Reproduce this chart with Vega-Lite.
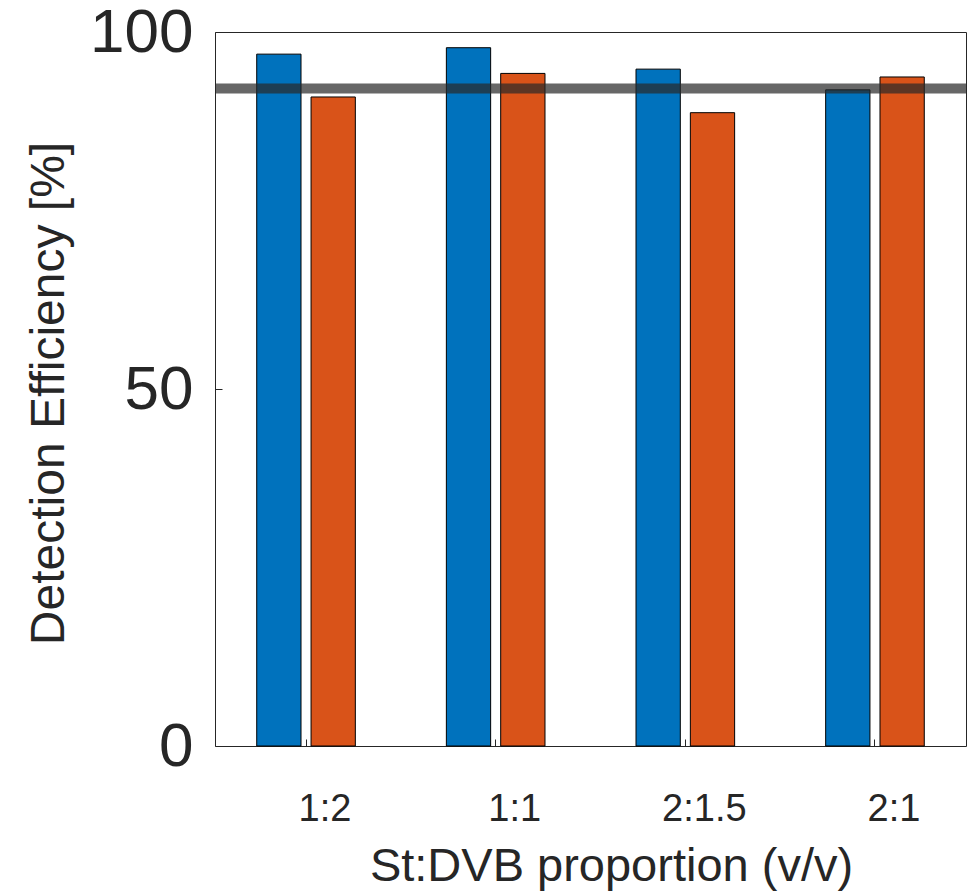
{
  "$schema": "https://vega.github.io/schema/vega-lite/v6.json",
  "width": 751,
  "height": 714,
  "autosize": {"type": "none"},
  "padding": {"left": 215, "top": 32, "right": 10, "bottom": 146},
  "background": "white",
  "config": {
    "view": {"stroke": "#262626", "strokeWidth": 1},
    "font": "Liberation Sans"
  },
  "data": {
    "values": [
      {"ratio": "1:2", "series": "A", "value": 96.9},
      {"ratio": "1:2", "series": "B", "value": 90.9},
      {"ratio": "1:1", "series": "A", "value": 97.8},
      {"ratio": "1:1", "series": "B", "value": 94.2},
      {"ratio": "2:1.5", "series": "A", "value": 94.8},
      {"ratio": "2:1.5", "series": "B", "value": 88.7},
      {"ratio": "2:1", "series": "A", "value": 91.9},
      {"ratio": "2:1", "series": "B", "value": 93.7}
    ]
  },
  "layer": [
    {
      "mark": {"type": "bar", "stroke": "#000000", "strokeWidth": 1},
      "encoding": {
        "x": {
          "field": "ratio",
          "type": "nominal",
          "sort": ["1:2", "1:1", "2:1.5", "2:1"],
          "scale": {"paddingInner": 0.48, "paddingOuter": 0.22},
          "axis": {
            "title": "St:DVB proportion (v/v)",
            "labelAngle": 0,
            "labelFontSize": 38,
            "labelColor": "#262626",
            "labelPadding": 51,
            "labelOffset": 19,
            "ticks": true,
            "tickSize": -7,
            "tickColor": "#262626",
            "domain": false,
            "titleFontSize": 47,
            "titleFontWeight": "normal",
            "titleColor": "#262626",
            "titleBaseline": "alphabetic",
            "titleAlign": "center",
            "titleX": 396,
            "titleY": 134
          }
        },
        "xOffset": {
          "field": "series",
          "type": "nominal",
          "scale": {"paddingInner": 0.185, "paddingOuter": 0}
        },
        "y": {
          "field": "value",
          "type": "quantitative",
          "scale": {"domain": [0, 100], "nice": false},
          "axis": {
            "title": "Detection Efficiency [%]",
            "values": [0, 50, 100],
            "grid": false,
            "domain": false,
            "ticks": true,
            "tickSize": -7,
            "tickColor": "#262626",
            "labelFontSize": 62,
            "labelColor": "#262626",
            "labelPadding": 29,
            "labelFlush": false,
            "labelBound": false,
            "labelOverlap": false,
            "titleFontSize": 48,
            "titleFontWeight": "normal",
            "titleColor": "#262626",
            "titleBaseline": "alphabetic",
            "titleAlign": "center",
            "titleX": -152,
            "titleY": 361
          }
        },
        "color": {
          "field": "series",
          "type": "nominal",
          "scale": {"domain": ["A", "B"], "range": ["#0072BD", "#D95319"]},
          "legend": null
        }
      }
    },
    {
      "data": {"values": [{"threshold": 92.1}]},
      "mark": {"type": "rule", "strokeWidth": 10, "color": "#292929", "opacity": 0.71},
      "encoding": {
        "y": {"field": "threshold", "type": "quantitative"}
      }
    }
  ]
}
